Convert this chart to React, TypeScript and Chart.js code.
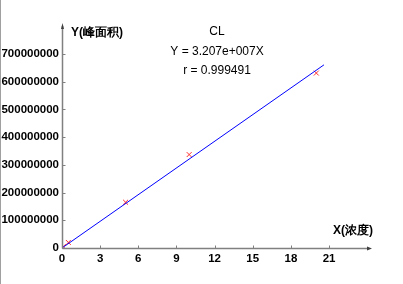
import React, { useEffect, useRef } from "react";
import { Chart, registerables } from "chart.js";

Chart.register(...registerables);

const concentrations = [0.1, 0.5, 5, 10, 20];
const peakAreas = [5000000, 20000000, 165000000, 337000000, 631000000];
const fitX = [0, 20.6];
const slope = 3.207e7;
const xTicks = [0, 3, 6, 9, 12, 15, 18, 21];
const yTicks = [0, 100000000, 200000000, 300000000, 400000000, 500000000, 600000000, 700000000];
const titleLines = ["CL", "Y = 3.207e+007X", "r = 0.999491"];
const yAxisTitle = "Y(峰面积)";
const xAxisTitle = "X(浓度)";

const FONT = "'Liberation Sans', Arial, sans-serif";

const decorPlugin = {
  id: "decor",
  afterDraw(chart: any) {
    const ctx = chart.ctx;
    const xs = chart.scales.x;
    const ys = chart.scales.y;
    const x0 = Math.round(xs.getPixelForValue(0)) + 0.5;
    const y0 = Math.round(ys.getPixelForValue(0)) + 0.5;
    const xEnd = chart.chartArea.right;
    const yTop = chart.chartArea.top;
    ctx.save();
    // left frame line
    ctx.strokeStyle = "#a0a0a0";
    ctx.lineWidth = 1;
    ctx.beginPath();
    ctx.moveTo(0.5, 0);
    ctx.lineTo(0.5, chart.height);
    ctx.stroke();
    // axes
    ctx.strokeStyle = "#808080";
    ctx.lineWidth = 1.5;
    ctx.beginPath();
    ctx.moveTo(x0, y0);
    ctx.lineTo(x0, yTop + 2);
    ctx.moveTo(x0, y0);
    ctx.lineTo(xEnd - 2, y0);
    ctx.stroke();
    // arrows
    ctx.fillStyle = "#404040";
    ctx.beginPath();
    ctx.moveTo(x0, yTop - 1);
    ctx.lineTo(x0 - 1.5, yTop + 5);
    ctx.lineTo(x0 + 1.5, yTop + 5);
    ctx.closePath();
    ctx.fill();
    ctx.beginPath();
    ctx.moveTo(xEnd + 1, y0);
    ctx.lineTo(xEnd - 4, y0 - 2);
    ctx.lineTo(xEnd - 4, y0 + 2);
    ctx.closePath();
    ctx.fill();
    // tick marks
    ctx.strokeStyle = "#808080";
    ctx.lineWidth = 1;
    ctx.beginPath();
    xTicks.forEach((v) => {
      const px = Math.round(xs.getPixelForValue(v)) + 0.5;
      ctx.moveTo(px, y0);
      ctx.lineTo(px, y0 - 3);
    });
    yTicks.forEach((v) => {
      const py = Math.round(ys.getPixelForValue(v)) + 0.5;
      ctx.moveTo(x0, py);
      ctx.lineTo(x0 + 3, py);
    });
    ctx.stroke();
    // texts
    ctx.fillStyle = "#000";
    ctx.textAlign = "center";
    ctx.textBaseline = "middle";
    ctx.font = "12px " + FONT;
    const cx = 217;
    const cys = [32, 52, 71];
    titleLines.forEach((t, i) => ctx.fillText(t, cx, cys[i]));
    ctx.textAlign = "left";
    ctx.font = "bold 12px " + FONT;
    ctx.fillText(yAxisTitle, 71, 33);
    ctx.fillText(xAxisTitle, 333, 231);
    ctx.restore();
  },
};

export default function App() {
  const ref = useRef<HTMLCanvasElement>(null);
  useEffect(() => {
    if (!ref.current) return;
    const chart = new Chart(ref.current, {
      type: "scatter",
      data: {
        datasets: [
          {
            type: "line",
            data: fitX.map((x) => ({ x, y: slope * x })),
            borderColor: "#0000ff",
            borderWidth: 1,
            pointRadius: 0,
            fill: false,
          } as any,
          {
            data: concentrations.map((x, i) => ({ x, y: peakAreas[i] })),
            pointStyle: "cross",
            rotation: 45,
            pointRadius: 3.5,
            borderColor: "#ff3030",
            borderWidth: 1,
            backgroundColor: "#ff3030",
          } as any,
        ],
      },
      options: {
        animation: false,
        responsive: false,
        events: [],
        layout: { padding: { left: 0, top: 24, right: 32, bottom: 0 } },
        plugins: { legend: { display: false }, tooltip: { enabled: false } },
        scales: {
          x: {
            type: "linear",
            min: 0,
            max: 24.3,
            afterBuildTicks: (s: any) => {
              s.ticks = xTicks.map((v) => ({ value: v }));
            },
            afterFit: (s: any) => {
              s.height = 36;
            },
            grid: { display: false, drawTicks: false },
            border: { display: false },
            ticks: {
              color: "#000",
              padding: 4,
              maxRotation: 0,
              autoSkip: false,
              font: { family: FONT, size: 11.5, weight: "bold" },
              callback: (v: any) => String(v),
            },
          },
          y: {
            type: "linear",
            min: 0,
            max: 808000000,
            afterBuildTicks: (s: any) => {
              s.ticks = yTicks.map((v) => ({ value: v }));
            },
            afterFit: (s: any) => {
              s.width = 62;
            },
            grid: { display: false, drawTicks: false },
            border: { display: false },
            ticks: {
              color: "#000",
              padding: 3,
              autoSkip: false,
              font: { family: FONT, size: 11.5, weight: "bold" },
              callback: (v: any) => String(v),
            },
          },
        },
      } as any,
      plugins: [decorPlugin],
    });
    return () => chart.destroy();
  }, []);
  return (
    <div style={{ position: "fixed", left: 0, top: 0, width: 403, height: 284, background: "#fff" }}>
      <canvas ref={ref} width={403} height={284} style={{ display: "block" }} />
    </div>
  );
}
